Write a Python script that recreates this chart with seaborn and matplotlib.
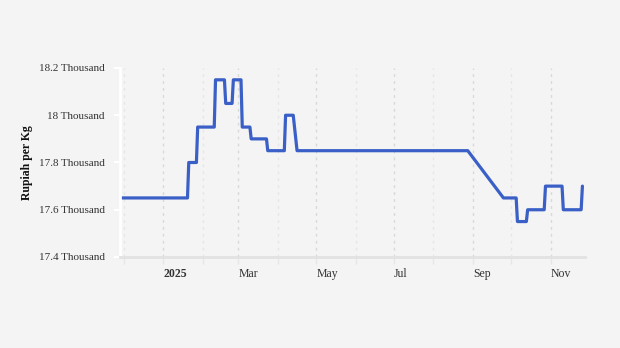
import matplotlib
matplotlib.use("Agg")
import matplotlib.pyplot as plt
import matplotlib.dates as mdates
import matplotlib.transforms as mtransforms
import seaborn as sns
import pandas as pd

dates = ["2024-11-29", "2025-01-20", "2025-01-21", "2025-01-27", "2025-01-28",
         "2025-02-10", "2025-02-11", "2025-02-18", "2025-02-19", "2025-02-24",
         "2025-02-25", "2025-03-03", "2025-03-04", "2025-03-10", "2025-03-11",
         "2025-03-23", "2025-03-24", "2025-04-06", "2025-04-07", "2025-04-13",
         "2025-04-15", "2025-04-16", "2025-08-28", "2025-09-25", "2025-10-05",
         "2025-10-06", "2025-10-13", "2025-10-14", "2025-10-27", "2025-10-28",
         "2025-11-10", "2025-11-11", "2025-11-25", "2025-11-26"]
prices = [17650, 17650, 17800, 17800, 17950,
          17950, 18150, 18150, 18050, 18050,
          18150, 18150, 17950, 17950, 17900,
          17900, 17850, 17850, 18000, 18000,
          17900, 17850, 17850, 17650, 17650,
          17550, 17550, 17600, 17600, 17700,
          17700, 17600, 17600, 17700]
y_ticks = [17400, 17600, 17800, 18000, 18200]
y_labels = ["17.4 Thousand", "17.6 Thousand", "17.8 Thousand", "18 Thousand", "18.2 Thousand"]
x_ticks = ["2025-01-01", "2025-03-01", "2025-05-01", "2025-07-01", "2025-09-01", "2025-11-01"]
x_labels = ["2025", "Mar", "May", "Jul", "Sep", "Nov"]
minor_ticks = ["2024-12-01", "2025-02-01", "2025-04-01", "2025-06-01", "2025-08-01", "2025-10-01"]

df = pd.DataFrame({"date": pd.to_datetime(dates), "price": prices})

bg = "#f4f4f4"
sns.set_theme(style="white")
plt.rcParams["font.family"] = ["Liberation Serif", "DejaVu Serif"]

fig = plt.figure(figsize=(6.2, 3.48), dpi=100, facecolor=bg)
ax = fig.add_axes([0.1935, 0.2615, 0.75, 0.5431])
ax.set_facecolor(bg)

sns.lineplot(data=df, x="date", y="price", ax=ax, color="#3a5fc6", linewidth=2.3)

ax.set_xlim(pd.Timestamp("2024-11-28"), pd.Timestamp("2025-11-28"))
ax.set_ylim(17400, 18200)

maj = [mdates.date2num(pd.Timestamp(d)) for d in x_ticks]
mnr = [mdates.date2num(pd.Timestamp(d)) for d in minor_ticks]
ax.set_xticks(maj)
ax.set_xticklabels(x_labels, fontsize=8.5, color="#333333", ha="left")
ax.set_xticks(mnr, minor=True)
offset = mtransforms.ScaledTranslation(3 / 100, 0, fig.dpi_scale_trans)
for lbl in ax.get_xticklabels():
    lbl.set_transform(lbl.get_transform() + offset)
    if lbl.get_text() == "2025":
        lbl.set_fontweight("bold")

ax.grid(False)
for v in maj:
    ax.axvline(v, color="#d8d8d8", linestyle=(0, (2, 3)), linewidth=1, zorder=0)
for v in mnr:
    ax.axvline(v, color="#e6e6e6", linestyle=(0, (2, 3)), linewidth=1, zorder=0)

ax.set_yticks(y_ticks)
ax.set_yticklabels(y_labels, fontsize=8, color="#333333")
ax.tick_params(axis="y", length=4, width=1.5, color="white", pad=7, left=True)
ax.tick_params(axis="x", which="both", length=5, width=1, color="#e6e6e6", pad=3, bottom=True)

ax.set_xlabel("")
ax.set_ylabel("Rupiah per Kg", fontsize=8.5, fontweight="bold", color="#111111", labelpad=4)

for s in ["top", "right"]:
    ax.spines[s].set_visible(False)
ax.spines["left"].set_color("white")
ax.spines["left"].set_linewidth(2)
ax.spines["bottom"].set_color("#e2e2e2")
ax.spines["bottom"].set_linewidth(2)

fig.savefig("out.png", dpi=100, facecolor=bg)
